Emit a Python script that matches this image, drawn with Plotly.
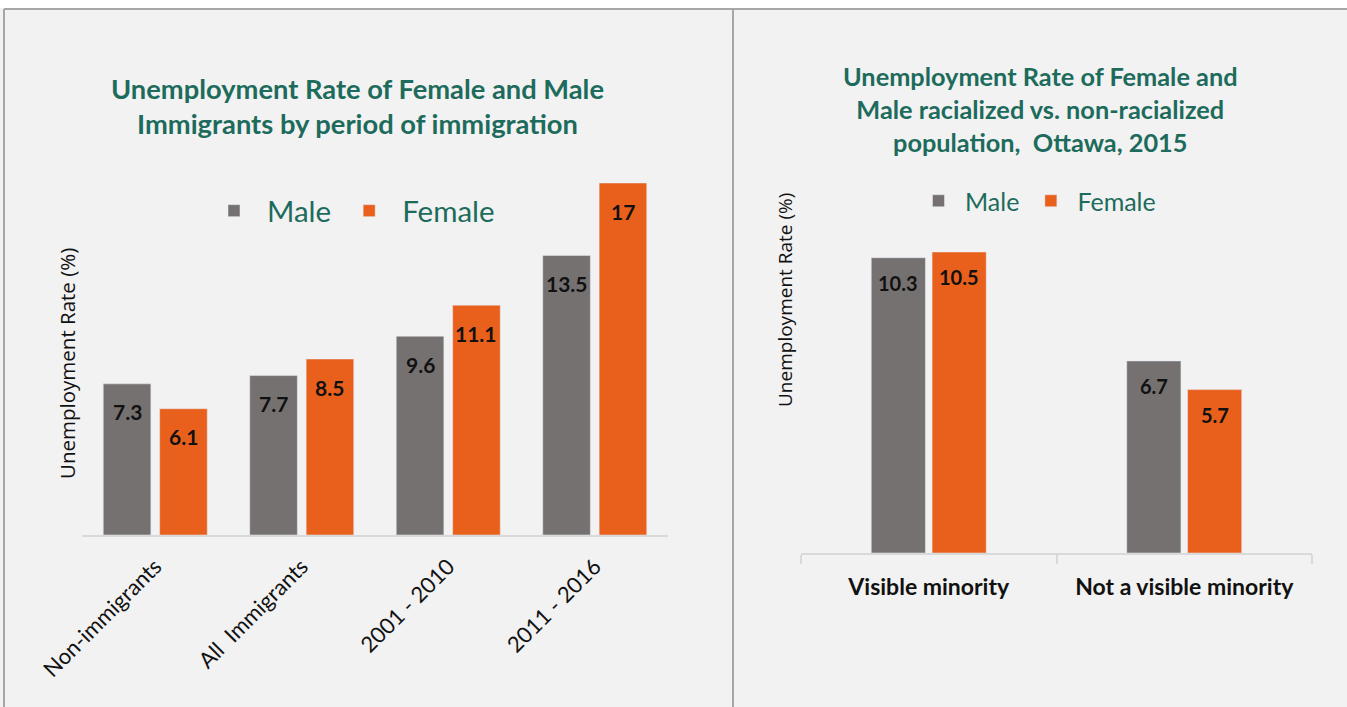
import plotly.graph_objects as go

# ---------------- data ----------------
periods = ["Non-immigrants", "All  Immigrants", "2001 - 2010", "2011 - 2016"]
male_period = [7.3, 7.7, 9.6, 13.5]
female_period = [6.1, 8.5, 11.1, 17]

groups = ["Visible minority", "Not a visible minority"]
male_group = [10.3, 6.7]
female_group = [10.5, 5.7]

title_left = "Unemployment Rate of Female and Male<br>Immigrants by period of immigration"
title_right = "Unemployment Rate of Female and<br>Male racialized vs. non-racialized<br>population,  Ottawa, 2015"
ytitle = "Unemployment Rate (%)"

# ---------------- style ----------------
W, H = 1347, 707
GRAY = "#767171"
ORANGE = "#e8601c"
TEAL = "#1d6b5c"
BG = "#f2f2f2"
BORDER = "#a6a6a6"
AXIS = "#d9d9d9"
FONT = "Lato"


def px_x(p):
    return p / W


def px_y(p):
    return 1 - p / H


# left plot geometry
L_x0, L_x1, L_base = 82, 668, 535
L_ppu = (535 - 183) / 17.0
L_range = 18.5
L_top = L_base - L_range * L_ppu
# right plot geometry
R_x0, R_x1, R_base = 801, 1312, 553
R_ppu = (553 - 252) / 10.5
R_range = 12
R_top = R_base - R_range * R_ppu

L_gw = (L_x1 - L_x0) / 4.0
R_gw = (R_x1 - R_x0) / 2.0

Lw, Lm_off, Lf_off = 0.325, -0.355, 0.03
Rw, Rm_off, Rf_off = 0.212, -0.225, 0.013

fig = go.Figure()
fig.add_trace(go.Bar(x=periods, y=male_period, name="Male", marker_color=GRAY,
                     width=Lw, offset=Lm_off, xaxis="x", yaxis="y", legend="legend",
                     hoverinfo="x+y"))
fig.add_trace(go.Bar(x=periods, y=female_period, name="Female", marker_color=ORANGE,
                     width=Lw, offset=Lf_off, xaxis="x", yaxis="y", legend="legend",
                     hoverinfo="x+y"))
fig.add_trace(go.Bar(x=groups, y=male_group, name="Male", marker_color=GRAY,
                     width=Rw, offset=Rm_off, xaxis="x2", yaxis="y2", legend="legend2",
                     hoverinfo="x+y"))
fig.add_trace(go.Bar(x=groups, y=female_group, name="Female", marker_color=ORANGE,
                     width=Rw, offset=Rf_off, xaxis="x2", yaxis="y2", legend="legend2",
                     hoverinfo="x+y"))

annotations = []
# data labels (left)
for cat, vm, vf in zip(periods, male_period, female_period):
    for v, off in ((vm, Lm_off), (vf, Lf_off)):
        annotations.append(dict(
            x=cat, y=v, xref="x", yref="y", text=f"{v:g}", showarrow=False,
            xshift=(off + Lw / 2) * L_gw, yshift=-28, yanchor="middle",
            font=dict(family=FONT, size=21, color="#111111", weight="bold")))
# data labels (right)
for cat, vm, vf in zip(groups, male_group, female_group):
    for v, off in ((vm, Rm_off), (vf, Rf_off)):
        annotations.append(dict(
            x=cat, y=v, xref="x2", yref="y2", text=f"{v:g}", showarrow=False,
            xshift=(off + Rw / 2) * R_gw, yshift=-25, yanchor="middle",
            font=dict(family=FONT, size=20, color="#111111", weight="bold")))

# titles
annotations.append(dict(
    x=px_x(357), y=px_y(106), xref="paper", yref="paper", text=title_left,
    showarrow=False, xanchor="center", yanchor="middle", align="center",
    font=dict(family=FONT, size=27.3, color=TEAL, weight="bold")))
annotations.append(dict(
    x=px_x(1040), y=px_y(109.5), xref="paper", yref="paper", text=title_right,
    showarrow=False, xanchor="center", yanchor="middle", align="center",
    font=dict(family=FONT, size=25.3, color=TEAL, weight="bold")))
# y-axis titles
annotations.append(dict(
    x=px_x(67), y=px_y(364), xref="paper", yref="paper", text=ytitle,
    showarrow=False, textangle=-90, xanchor="center", yanchor="middle",
    font=dict(family="Open Sans", size=20.5, color="#111111")))
annotations.append(dict(
    x=px_x(785), y=px_y(300), xref="paper", yref="paper", text=ytitle,
    showarrow=False, textangle=-90, xanchor="center", yanchor="middle",
    font=dict(family="Open Sans", size=19, color="#111111")))

shapes = [
    dict(type="rect", xref="paper", yref="paper", x0=0, x1=1, y0=px_y(8), y1=1,
         fillcolor="white", line=dict(width=0), layer="below"),
    dict(type="line", xref="paper", yref="paper", x0=px_x(4), x1=1, y0=px_y(9), y1=px_y(9),
         line=dict(color=BORDER, width=2)),
    dict(type="line", xref="paper", yref="paper", x0=px_x(4), x1=px_x(4), y0=0, y1=px_y(9),
         line=dict(color=BORDER, width=2)),
    dict(type="line", xref="paper", yref="paper", x0=px_x(733), x1=px_x(733), y0=0, y1=px_y(9),
         line=dict(color=BORDER, width=2)),
]

fig.update_layout(
    width=W, height=H,
    margin=dict(l=0, r=0, t=0, b=0, autoexpand=False),
    paper_bgcolor=BG, plot_bgcolor="rgba(0,0,0,0)",
    barmode="group",
    font=dict(family=FONT, color="#111111"),
    xaxis=dict(domain=[px_x(L_x0), px_x(L_x1)], anchor="y", type="category",
               automargin=False,
               showline=True, linecolor=AXIS, linewidth=2, ticks="",
               tickangle=-45, ticklabelstandoff=8,
               tickfont=dict(family=FONT, size=22, color="#111111"),
               showgrid=False, zeroline=False, fixedrange=True),
    yaxis=dict(domain=[px_y(L_base), px_y(L_top)], anchor="x", range=[0, L_range],
               automargin=False,
               showticklabels=False, showgrid=False, zeroline=False, showline=False,
               ticks="", fixedrange=True),
    xaxis2=dict(domain=[px_x(R_x0), px_x(R_x1)], anchor="y2", type="category",
                automargin=False,
                showline=True, linecolor=AXIS, linewidth=1.5, ticks="outside",
                tickson="boundaries", ticklen=9, tickcolor=AXIS, tickwidth=1.5,
                ticklabelstandoff=13,
                tickfont=dict(family=FONT, size=23, color="#111111", weight="bold"),
                showgrid=False, zeroline=False, fixedrange=True),
    yaxis2=dict(domain=[px_y(R_base), px_y(R_top)], anchor="x2", range=[0, R_range],
                automargin=False,
                showticklabels=False, showgrid=False, zeroline=False, showline=False,
                ticks="", fixedrange=True),
    legend=dict(orientation="h", x=px_x(201), y=px_y(211), xanchor="left", yanchor="middle",
                bgcolor="rgba(0,0,0,0)", itemwidth=56,
                font=dict(family=FONT, size=29.5, color=TEAL)),
    legend2=dict(orientation="h", x=px_x(912), y=px_y(201), xanchor="left", yanchor="middle",
                 bgcolor="rgba(0,0,0,0)", itemwidth=43,
                 font=dict(family=FONT, size=25, color=TEAL)),
    annotations=annotations,
    shapes=shapes,
)

fig.write_html(
    "out.html",
    config={"displayModeBar": False},
    post_script=(
        "document.body.style.margin='0';"
        "document.body.style.padding='0';"
        "document.body.style.overflow='hidden';"
        "document.documentElement.style.overflow='hidden';"
    ),
)
